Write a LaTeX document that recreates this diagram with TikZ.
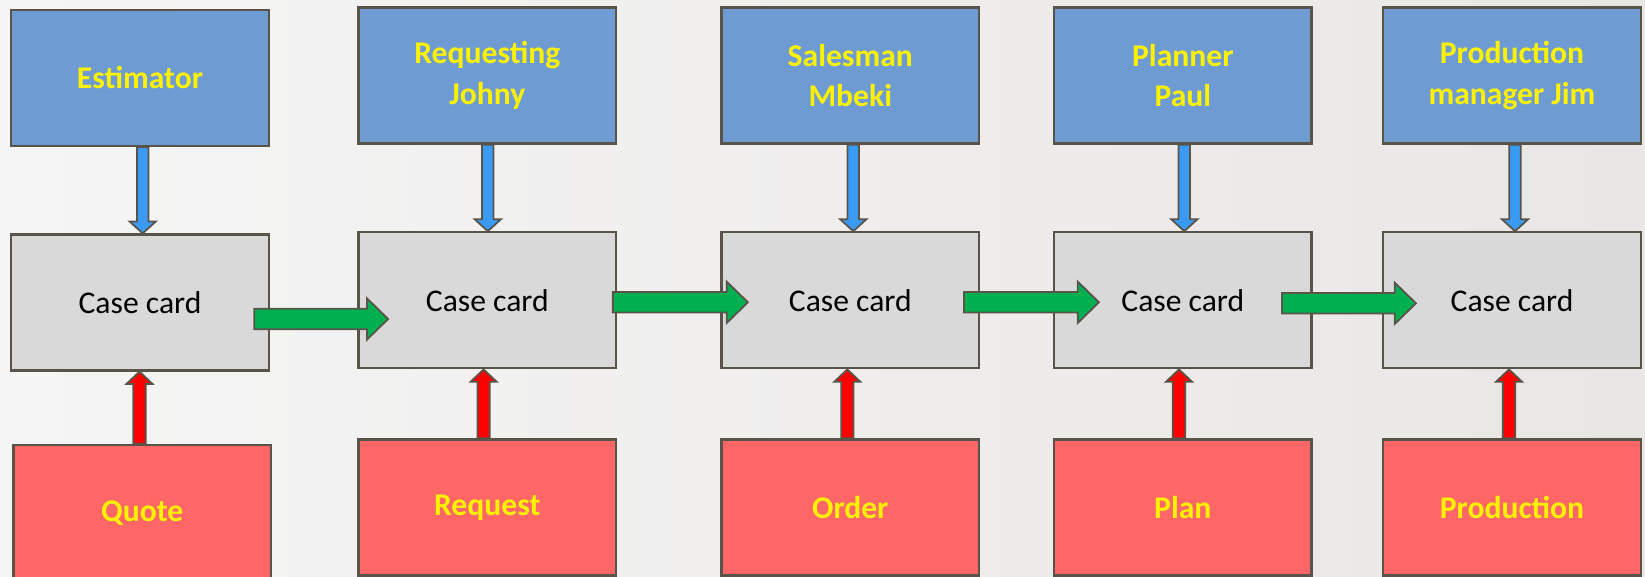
\documentclass[tikz,border=0pt]{standalone}
\usepackage{fontspec}
\setmainfont{Carlito}
\usetikzlibrary{calc, positioning}

\definecolor{roleblue}{RGB}{111,155,211}
\definecolor{cardgray}{RGB}{217,217,217}
\definecolor{docred}{RGB}{255,102,102}
\definecolor{edgegray}{RGB}{90,83,74}
\definecolor{inblue}{RGB}{58,155,245}
\definecolor{passgreen}{RGB}{0,176,80}
\definecolor{inred}{RGB}{255,0,0}
\definecolor{bgleft}{RGB}{245,245,245}
\definecolor{bgright}{RGB}{233,231,229}

% fat arrow: fill, half shaft, half head, head length, from, to
\newcommand{\blockarrow}[6]{%
	\coordinate (ba-s) at (#5);
	\coordinate (ba-e) at (#6);
	\draw[arrowline, fill=#1] ($(ba-s)!#2!90:(ba-e)$) -- ($(ba-e)!#4!(ba-s)!#2!90:(ba-e)$)
		-- ($(ba-e)!#4!(ba-s)!#3!90:(ba-e)$) -- (ba-e) -- ($(ba-e)!#4!(ba-s)!#3!-90:(ba-e)$)
		-- ($(ba-e)!#4!(ba-s)!#2!-90:(ba-e)$) -- ($(ba-s)!#2!-90:(ba-e)$) -- cycle;}
\newcommand{\bluearrow}[2]{\blockarrow{inblue}{3.3pt}{7.5pt}{6.8pt}{#1}{#2}}
\newcommand{\redarrow}[2]{\blockarrow{inred}{3.5pt}{7.4pt}{7pt}{#1}{#2}}
\newcommand{\greenarrow}[2]{\blockarrow{passgreen}{5.8pt}{11.8pt}{12.1pt}{#1}{#2}}

\tikzset{
	box/.style={draw=edgegray, line width=1.3pt, minimum width=5.15cm, minimum height=2.72cm, inner sep=0pt, align=center},
	role/.style={box, fill=roleblue, text=yellow, font=\fontsize{18pt}{23pt}\selectfont\bfseries},
	card/.style={box, fill=cardgray, text=black, font=\fontsize{18pt}{23pt}\selectfont},
	doc/.style={box, fill=docred, text=yellow, font=\fontsize{18pt}{23pt}\selectfont\bfseries},
	arrowline/.style={draw=edgegray, line width=1pt, line join=miter}
}

\begin{document}
\begin{tikzpicture}[x=0.02cm, y=-0.02cm]
	% background
	\fill[left color=bgleft, right color=bgright] (0,0) rectangle (1645,577);
	\useasboundingbox (0,0) rectangle (1645,577);

	% people
	\node[role] (r1) at (140,78) {Estimator};
	\node[role] (r2) at (487.3,75.5) {Requesting\\Johny};
	\node[role] (r3) at (850.3,75.5) {Salesman\\Mbeki};
	\node[role] (r4) at (1182.8,75.5) {Planner\\Paul};
	\node[role] (r5) at (1512,75.5) {Production\\manager Jim};

	% case cards
	\node[card] (c1) at (140,302.5) {Case card};
	\node[card] (c2) at (487.3,300.3) {Case card};
	\node[card] (c3) at (850.3,300.3) {Case card};
	\node[card] (c4) at (1182.8,300.3) {Case card};
	\node[card] (c5) at (1512,300.3) {Case card};

	% documents
	\node[doc] (d1) at (142.2,513) {Quote};
	\node[doc] (d2) at (487.3,507.5) {Request};
	\node[doc] (d3) at (850.3,507.5) {Order};
	\node[doc] (d4) at (1182.8,507.5) {Plan};
	\node[doc] (d5) at (1512,507.5) {Production};

	\bluearrow{[shift={(2.7,0)}]r1.south}{[shift={(2.7,0)}]c1.north}
	\bluearrow{[shift={(0.5,0)}]r2.south}{[shift={(0.5,0)}]c2.north}
	\bluearrow{[shift={(3,0)}]r3.south}{[shift={(3,0)}]c3.north}
	\bluearrow{[shift={(1.5,0)}]r4.south}{[shift={(1.5,0)}]c4.north}
	\bluearrow{[shift={(3,0)}]r5.south}{[shift={(3,0)}]c5.north}

	\redarrow{[shift={(-2.7,0)}]d1.north}{[shift={(-0.5,0)}]c1.south}
	\redarrow{[shift={(-3.7,0)}]d2.north}{[shift={(-3.7,0)}]c2.south}
	\redarrow{[shift={(-3,0)}]d3.north}{[shift={(-3,0)}]c3.south}
	\redarrow{[shift={(-3.8,0)}]d4.north}{[shift={(-3.8,0)}]c4.south}
	\redarrow{[shift={(-3,0)}]d5.north}{[shift={(-3,0)}]c5.south}

	% passing the card on
	\greenarrow{[shift={(-15.6,16.5)}]c1.east}{[shift={(30.7,18.7)}]c2.west}
	\greenarrow{[shift={(-4.3,2)}]c2.east}{[shift={(27.5,2)}]c3.west}
	\greenarrow{[shift={(-16.3,2)}]c3.east}{[shift={(46,2)}]c4.west}
	\greenarrow{[shift={(-30.8,3)}]c4.east}{[shift={(33.8,3)}]c5.west}
\end{tikzpicture}
\end{document}
